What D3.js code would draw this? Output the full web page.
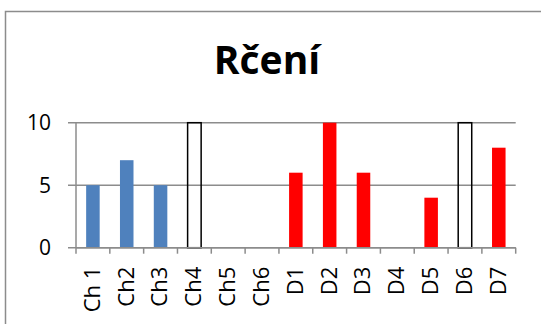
<!DOCTYPE html>
<html>
<head>
<meta charset="utf-8">
<script src="https://cdn.jsdelivr.net/npm/d3@7"></script>
<style>
  body { margin: 0; background: #fff; }
  text { font-family: "Open Sans", sans-serif; }
</style>
</head>
<body>
<div id="chart"></div>
<script>
const categories = ["Ch 1", "Ch2", "Ch3", "Ch4", "Ch5", "Ch6", "D1", "D2", "D3", "D4", "D5", "D6", "D7"];
const chValues = [5, 7, 5, null, null, null, null, null, null, null, null, null, null];
const dValues = [null, null, null, null, null, null, 6, 10, 6, null, 4, null, 8];
const emptyValues = [null, null, null, 10, null, null, null, null, null, null, null, 10, null];
const yTicks = [0, 5, 10];
const title = "Rčení";

(function() {
    const width = 541;
    const height = 324;
    const margin = { left: 76, right: 25.3, top: 122.7, bottom: 76.3 };

    const svg = d3.select("#chart")
        .append("svg")
        .attr("width", width)
        .attr("height", height);

    // chart frame
    svg.append("rect")
        .attr("x", 5.5)
        .attr("y", 11.5)
        .attr("width", 560)
        .attr("height", 340)
        .attr("fill", "none")
        .attr("stroke", "#8c8c8c")
        .attr("stroke-width", 1.5);

    svg.append("text")
        .attr("x", 267)
        .attr("y", 74)
        .attr("text-anchor", "middle")
        .style("font-size", "39px")
        .style("font-weight", "bold")
        .text(title);

    const x = d3.scaleBand()
        .domain(categories)
        .range([margin.left, width - margin.right])
        .paddingInner(0.6)
        .paddingOuter(0.3);

    const y = d3.scaleLinear()
        .domain([0, 10])
        .range([height - margin.bottom, margin.top]);

    // gridlines with the little ticks left of the axis
    svg.append("g")
        .selectAll("line")
        .data(yTicks)
        .join("line")
        .attr("x1", margin.left - 8)
        .attr("x2", width - margin.right)
        .attr("y1", d => y(d))
        .attr("y2", d => y(d))
        .attr("stroke", "#8c8c8c")
        .attr("stroke-width", 1.5);

    svg.append("g")
        .selectAll("text")
        .data(yTicks)
        .join("text")
        .attr("x", margin.left - 25)
        .attr("y", d => y(d))
        .attr("dy", "0.36em")
        .attr("text-anchor", "end")
        .style("font-size", "21px")
        .text(d => d);

    // y axis line
    svg.append("line")
        .attr("x1", margin.left)
        .attr("x2", margin.left)
        .attr("y1", y(10))
        .attr("y2", y(0))
        .attr("stroke", "#8c8c8c")
        .attr("stroke-width", 1.5);

    // x category ticks at band edges
    const step = x.step();
    const edges = d3.range(categories.length + 1).map(i => margin.left + i * step);
    svg.append("g")
        .selectAll("line")
        .data(edges)
        .join("line")
        .attr("x1", d => d)
        .attr("x2", d => d)
        .attr("y1", y(0))
        .attr("y2", y(0) + 6)
        .attr("stroke", "#8c8c8c")
        .attr("stroke-width", 1.5);

    const bars = svg.append("g");
    bars.selectAll(".ch")
        .data(categories.map((c, i) => ({ c, v: chValues[i] })).filter(d => d.v != null))
        .join("rect")
        .attr("x", d => x(d.c))
        .attr("width", x.bandwidth())
        .attr("y", d => y(d.v))
        .attr("height", d => y(0) - y(d.v))
        .attr("fill", "#4f81bd");

    bars.selectAll(".d")
        .data(categories.map((c, i) => ({ c, v: dValues[i] })).filter(d => d.v != null))
        .join("rect")
        .attr("x", d => x(d.c))
        .attr("width", x.bandwidth())
        .attr("y", d => y(d.v))
        .attr("height", d => y(0) - y(d.v))
        .attr("fill", "#ff0000");

    bars.selectAll(".empty")
        .data(categories.map((c, i) => ({ c, v: emptyValues[i] })).filter(d => d.v != null))
        .join("rect")
        .attr("x", d => x(d.c))
        .attr("width", x.bandwidth())
        .attr("y", d => y(d.v))
        .attr("height", d => y(0) - y(d.v))
        .attr("fill", "none")
        .attr("stroke", "#000")
        .attr("stroke-width", 1.5);

    // x axis line drawn over bars
    svg.append("line")
        .attr("x1", margin.left)
        .attr("x2", width - margin.right)
        .attr("y1", y(0))
        .attr("y2", y(0))
        .attr("stroke", "#8c8c8c")
        .attr("stroke-width", 1.5);

    svg.append("g")
        .selectAll("text")
        .data(categories)
        .join("text")
        .attr("transform", d => `translate(${x(d) + x.bandwidth() / 2 - 1},${y(0) + 19}) rotate(-90)`)
        .attr("dy", "0.36em")
        .attr("text-anchor", "end")
        .style("font-size", "22px")
        .text(d => d);
})();
</script>
</body>
</html>
